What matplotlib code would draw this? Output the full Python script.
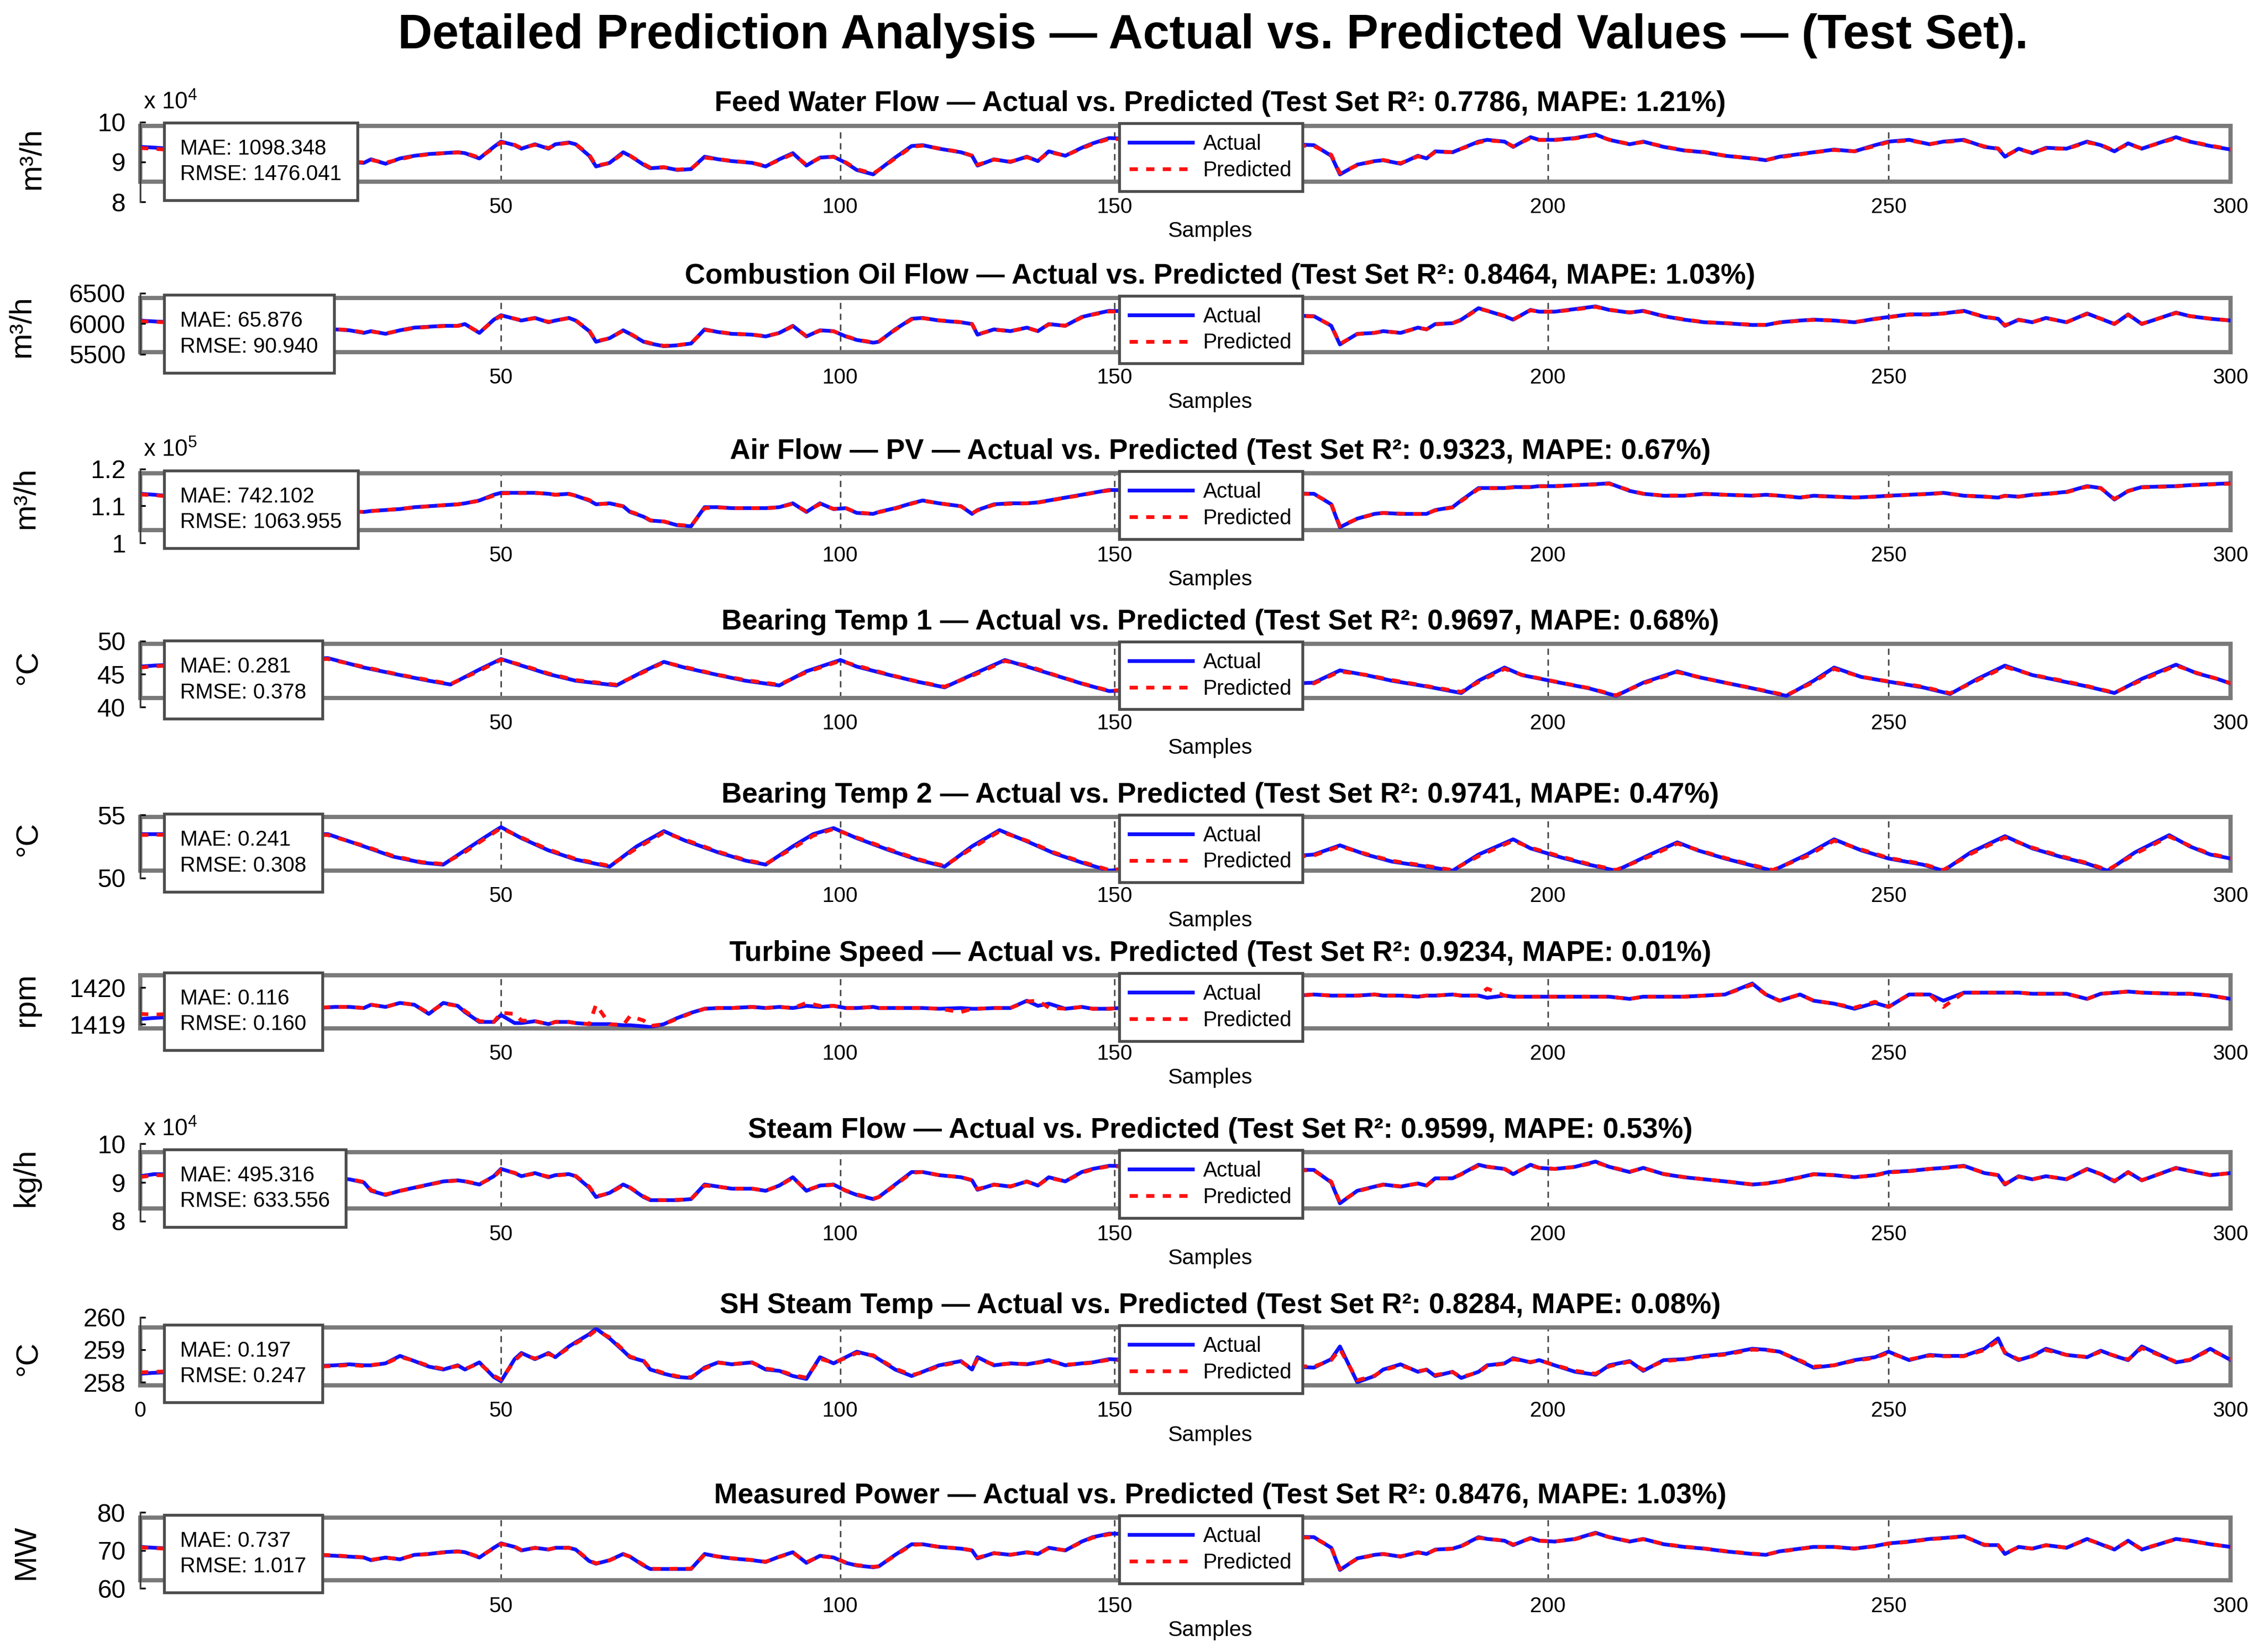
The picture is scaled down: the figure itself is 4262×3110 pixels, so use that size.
import numpy as np
import matplotlib
matplotlib.use("Agg")
import matplotlib.pyplot as plt

plt.rcParams['font.family'] = ['Liberation Sans', 'DejaVu Sans']
plt.rcParams['mathtext.fontset'] = 'custom'
plt.rcParams['mathtext.rm'] = 'Liberation Sans'
plt.rcParams['mathtext.it'] = 'Liberation Sans:italic'
plt.rcParams['mathtext.bf'] = 'Liberation Sans:bold'

# ---------------------------------------------------------------- texts / metrics
suptitle = "Detailed Prediction Analysis — Actual vs. Predicted Values — (Test Set)."
names = ["Feed Water Flow", "Combustion Oil Flow", "Air Flow — PV", "Bearing Temp 1",
         "Bearing Temp 2", "Turbine Speed", "Steam Flow", "SH Steam Temp", "Measured Power"]
units = ["m³/h", "m³/h", "m³/h", "°C", "°C", "rpm", "kg/h", "°C", "MW"]
r2 = [0.7786, 0.8464, 0.9323, 0.9697, 0.9741, 0.9234, 0.9599, 0.8284, 0.8476]
mape = [1.21, 1.03, 0.67, 0.68, 0.47, 0.01, 0.53, 0.08, 1.03]
mae = [1098.348, 65.876, 742.102, 0.281, 0.241, 0.116, 495.316, 0.197, 0.737]
rmse = [1476.041, 90.940, 1063.955, 0.378, 0.308, 0.160, 633.556, 0.247, 1.017]
x_ticks = [50, 100, 150, 200, 250, 300]
y_ticks = [[80000, 90000, 100000], [5500, 6000, 6500], [100000, 110000, 120000],
           [40, 45, 50], [50, 55], [1419, 1420], [80000, 90000, 100000],
           [258, 259, 260], [60, 70, 80]]
y_tick_labels = [["8", "9", "10"], ["5500", "6000", "6500"], ["1", "1.1", "1.2"],
                 ["40", "45", "50"], ["50", "55"], ["1419", "1420"], ["8", "9", "10"],
                 ["258", "259", "260"], ["60", "70", "80"]]
exponents = [4, None, 5, None, None, None, 4, None, None]

# ---------------------------------------------------------------- data
samples = [0, 2, 27, 29, 31, 32, 34, 36, 38, 40, 42, 44, 45, 47, 49,
           50, 52, 53, 55, 57, 58, 60, 61, 63, 64, 66, 68, 69, 71, 72, 74, 76, 78, 80, 82, 84, 87, 89, 91, 93, 95, 97, 99,
           101, 103, 106, 107, 110, 113, 115, 118, 122, 124, 125, 128, 131, 134, 136, 138, 141, 144, 146, 149,
           173, 175, 176, 178, 180, 181, 183, 185, 186, 187, 189, 190, 192, 193, 195, 196, 198, 199,
           201, 204, 207, 209, 212, 214, 217, 220, 223, 226, 230, 232, 234, 237, 239, 242, 245, 248,
           250, 253, 256, 258, 261, 264, 266, 267, 269, 271, 273, 276, 279, 281, 283, 285, 287, 292, 294, 297, 300]

feed_actual = [93780, 93600, 90220, 90000, 89780, 90670, 89560, 90890, 91560, 92000, 92220, 92440, 92220, 90890, 93780,
               95110, 94220, 93330, 94440, 93330, 94440, 94890, 94440, 91560, 88890, 89780, 92440, 91560, 89330, 88440, 88670, 88000, 88220, 91330, 90670, 90220, 89780, 88890, 90670, 92220, 89110, 91110, 91330,
               89780, 88000, 86890, 88000, 91110, 94000, 94220, 93330, 92440, 91560, 89110, 90670, 90000, 91330, 90220, 92670, 91560, 93560, 94670, 96000,
               94220, 91560, 86890, 89330, 90220, 90440, 89560, 91560, 90890, 92670, 92440, 93330, 95110, 95560, 95110, 93780, 96220, 95560,
               95560, 96000, 96890, 95560, 94440, 95110, 93780, 92890, 92440, 91560, 90890, 90440, 91330, 92000, 92440, 93110, 92670, 94220,
               95110, 95560, 94440, 95110, 95560, 93780, 93330, 91330, 93330, 92220, 93560, 93330, 95110, 94220, 92670, 94670, 93330, 96220, 95110, 94000, 93110]
feed_pred = [93500, 93300, 90300, 90100, 89900, 90500, 89800, 90700, 91500, 91900, 92200, 92400, 92300, 91100, 93500,
             94900, 94300, 93500, 94300, 93500, 94300, 94800, 94500, 91800, 89100, 89700, 92200, 91600, 89500, 88600, 88700, 88100, 88300, 91100, 90700, 90300, 89800, 89000, 90500, 92000, 89300, 91000, 91300,
             89900, 88200, 87100, 88000, 90900, 93800, 94100, 93400, 92500, 91600, 89300, 90600, 90100, 91200, 90300, 92500, 91600, 93400, 94500, 95800,
             94000, 91800, 87200, 89200, 90200, 90500, 89700, 91400, 91000, 92500, 92500, 93300, 94900, 95400, 95100, 93900, 96000, 95500,
             95500, 95900, 96700, 95600, 94500, 95000, 93900, 92900, 92500, 91600, 90900, 90500, 91200, 91900, 92400, 93000, 92700, 94000,
             95000, 95400, 94500, 95000, 95400, 93900, 93400, 91500, 93200, 92300, 93400, 93300, 94900, 94300, 92800, 94500, 93400, 96000, 95200, 94100, 93200]

oil_actual = [6050, 6036, 5906, 5891, 5848, 5877, 5833, 5891, 5935, 5949, 5964, 5964, 5993, 5848, 6065,
              6138, 6080, 6051, 6094, 6022, 6051, 6094, 6051, 5877, 5703, 5761, 5891, 5833, 5703, 5674, 5630, 5645, 5674, 5906, 5862, 5833, 5819, 5790, 5848, 5964, 5790, 5891, 5877,
              5790, 5732, 5688, 5703, 5906, 6080, 6094, 6051, 6022, 5993, 5819, 5906, 5877, 5935, 5877, 5993, 5964, 6109, 6152, 6210,
              6123, 5964, 5659, 5833, 5848, 5877, 5848, 5935, 5906, 5993, 6007, 6065, 6254, 6210, 6123, 6065, 6225, 6196,
              6196, 6239, 6283, 6225, 6181, 6210, 6123, 6065, 6022, 6007, 5978, 5978, 6022, 6051, 6065, 6051, 6022, 6080,
              6109, 6152, 6152, 6167, 6210, 6109, 6080, 5964, 6065, 6022, 6094, 6022, 6167, 6080, 5993, 6152, 5993, 6181, 6123, 6080, 6051]
oil_pred = [6040, 6030, 5910, 5895, 5855, 5870, 5840, 5885, 5930, 5945, 5960, 5962, 5988, 5855, 6055,
            6128, 6083, 6055, 6090, 6028, 6050, 6090, 6055, 5885, 5712, 5758, 5885, 5838, 5710, 5680, 5636, 5648, 5676, 5898, 5865, 5836, 5820, 5795, 5845, 5958, 5796, 5885, 5875,
            5795, 5738, 5692, 5705, 5898, 6072, 6090, 6055, 6025, 5995, 5825, 5900, 5880, 5930, 5880, 5988, 5966, 6102, 6148, 6200,
            6118, 5970, 5668, 5828, 5850, 5875, 5850, 5930, 5908, 5988, 6005, 6060, 6245, 6212, 6128, 6070, 6218, 6198,
            6195, 6232, 6275, 6228, 6185, 6205, 6128, 6070, 6025, 6010, 5982, 5980, 6018, 6048, 6062, 6052, 6025, 6075,
            6105, 6148, 6150, 6165, 6202, 6115, 6082, 5972, 6060, 6025, 6090, 6025, 6160, 6082, 5998, 6145, 5998, 6175, 6125, 6082, 6052]

air_actual = [113280, 113020, 108630, 108475, 108370, 108630, 108890, 109150, 109660, 109920, 110180, 110440, 110700, 111470, 113020,
              113540, 113540, 113540, 113540, 113280, 113020, 113280, 112760, 111470, 110440, 110700, 109920, 108370, 107080, 106050, 105790, 104760, 104500, 109660, 109660, 109400, 109400, 109400, 109660, 110700, 108370, 110700, 109150,
              109400, 108110, 107850, 108370, 109400, 110700, 111470, 110700, 109920, 107850, 108890, 110440, 110700, 110700, 110960, 111470, 112250, 113020, 113540, 114320,
              113280, 110440, 104240, 106560, 107850, 108110, 107850, 107850, 107850, 108890, 109660, 111470, 114830, 114830, 114830, 115090, 115090, 115350,
              115350, 115610, 115870, 116120, 114060, 113280, 112760, 112760, 113280, 113020, 112760, 113020, 112760, 112250, 112760, 112510, 112250, 112510,
              112760, 113020, 113280, 113540, 112760, 112510, 112250, 112760, 112510, 113020, 113280, 113800, 115350, 114830, 111730, 114060, 115090, 115350, 115610, 115870, 116120]
air_pred = [113100, 112900, 108700, 108500, 108400, 108600, 108900, 109200, 109600, 109900, 110200, 110400, 110700, 111400, 112800,
            113400, 113500, 113500, 113500, 113300, 113000, 113200, 112800, 111600, 110500, 110600, 109900, 108500, 107200, 106100, 105800, 104900, 104600, 109400, 109600, 109400, 109400, 109400, 109600, 110600, 108500, 110500, 109200,
            109400, 108200, 107900, 108300, 109300, 110600, 111400, 110700, 109900, 108000, 108800, 110300, 110600, 110700, 110900, 111400, 112200, 112900, 113500, 114200,
            113200, 110600, 104500, 106500, 107800, 108100, 107900, 107800, 107900, 108800, 109600, 111300, 114600, 114800, 114800, 115000, 115100, 115300,
            115300, 115600, 115800, 116000, 114200, 113300, 112800, 112800, 113200, 113000, 112800, 113000, 112800, 112300, 112700, 112500, 112300, 112500,
            112700, 113000, 113200, 113500, 112800, 112500, 112300, 112700, 112500, 113000, 113200, 113700, 115200, 114800, 111900, 114000, 115000, 115300, 115600, 115800, 116000]

samples_bt1 = [0, 2, 26, 31, 36, 40, 43, 47, 50, 53, 57, 61, 67, 71, 74, 77, 82, 86, 91, 95,
               100, 103, 109, 114, 119, 125, 130, 134, 139, 144, 149, 173, 176, 179, 182, 186, 190, 192, 195, 197,
               201, 206, 210, 214, 219, 222, 226, 230, 235, 239, 242, 246, 250, 255, 259, 263, 267, 271, 275, 279,
               283, 287, 292, 295, 298, 300]
bt1_actual = [46.14, 46.30, 47.43, 46.00, 44.86, 44.00, 43.43, 45.70, 47.29, 46.30, 45.00, 44.00, 43.29, 45.43, 46.86, 46.00, 44.86, 44.00, 43.29, 45.43,
              47.14, 46.14, 44.86, 43.86, 43.00, 45.29, 47.14, 46.14, 44.86, 43.57, 42.43, 43.71, 45.57, 44.86, 44.00, 43.14, 42.14, 44.00, 46.00, 44.86,
              43.86, 42.86, 41.71, 43.71, 45.43, 44.57, 43.71, 42.86, 41.71, 44.00, 46.00, 44.57, 43.86, 43.00, 42.00, 44.29, 46.29, 44.86, 44.00, 43.14,
              42.14, 44.29, 46.43, 45.14, 44.29, 43.57]
bt1_pred = [46.0, 46.2, 47.3, 46.1, 44.9, 44.1, 43.5, 45.5, 47.2, 46.4, 45.1, 44.1, 43.4, 45.3, 46.8, 46.1, 44.9, 44.1, 43.4, 45.3,
            47.0, 46.3, 44.9, 43.9, 43.1, 45.1, 47.0, 46.3, 44.9, 43.6, 42.5, 43.6, 45.4, 44.9, 44.1, 43.2, 42.3, 43.8, 45.8, 44.9,
            43.9, 42.9, 41.8, 43.6, 45.3, 44.6, 43.7, 42.9, 41.8, 43.8, 45.8, 44.6, 43.9, 43.1, 42.1, 44.1, 46.1, 44.9, 44.1, 43.2,
            42.2, 44.1, 46.3, 45.2, 44.3, 43.6]

samples_bt2 = [0, 2, 26, 31, 35, 39, 42, 45, 48, 50, 53, 57, 61, 66, 70, 74, 77, 82, 86, 89,
               93, 96, 99, 103, 109, 114, 119, 124, 129, 134, 139, 144, 149, 173, 176, 179, 182, 186, 189, 192,
               196, 198, 202, 206, 210, 215, 219, 222, 226, 230, 233, 238, 242, 246, 250, 255, 258, 262, 267, 271,
               275, 279, 282, 286, 291, 294, 297, 300]
bt2_actual = [53.47, 53.47, 53.47, 52.50, 51.69, 51.21, 51.05, 52.18, 53.31, 54.03, 53.15, 52.18, 51.45, 50.89, 52.50, 53.71, 52.98, 52.02, 51.37, 51.05,
              52.50, 53.47, 53.95, 53.15, 52.18, 51.45, 50.89, 52.50, 53.79, 52.90, 51.94, 51.21, 50.56, 51.85, 52.58, 51.85, 51.29, 50.89, 50.56, 51.85,
              53.06, 52.34, 51.61, 51.05, 50.56, 51.85, 52.82, 52.18, 51.53, 50.97, 50.56, 51.85, 53.06, 52.18, 51.53, 51.05, 50.56, 52.02, 53.31, 52.34,
              51.69, 51.13, 50.56, 52.02, 53.39, 52.50, 51.85, 51.53]
bt2_pred = [53.40, 53.42, 53.40, 52.55, 51.75, 51.25, 51.10, 52.05, 53.20, 53.95, 53.20, 52.25, 51.50, 50.95, 52.35, 53.60, 53.05, 52.08, 51.42, 51.10,
            52.35, 53.35, 53.88, 53.20, 52.25, 51.50, 50.95, 52.35, 53.70, 52.95, 52.00, 51.27, 50.62, 51.78, 52.50, 51.90, 51.35, 50.95, 50.62, 51.72,
            52.95, 52.40, 51.68, 51.10, 50.62, 51.72, 52.72, 52.22, 51.58, 51.02, 50.62, 51.72, 52.95, 52.25, 51.58, 51.10, 50.62, 51.90, 53.20, 52.40,
            51.75, 51.18, 50.62, 51.90, 53.28, 52.55, 51.90, 51.57]

speed_actual = [1419.14, 1419.17, 1419.47, 1419.47, 1419.44, 1419.53, 1419.47, 1419.58, 1419.53, 1419.28, 1419.58, 1419.50, 1419.33, 1419.06, 1419.06,
                1419.25, 1419.03, 1419.03, 1419.08, 1419.00, 1419.06, 1419.06, 1419.03, 1419.00, 1419.00, 1419.00, 1418.97, 1418.97, 1418.94, 1418.92, 1419.00, 1419.17, 1419.31, 1419.42, 1419.44, 1419.44, 1419.47, 1419.44, 1419.47, 1419.44, 1419.50, 1419.47, 1419.50,
                1419.44, 1419.44, 1419.47, 1419.44, 1419.44, 1419.44, 1419.44, 1419.42, 1419.44, 1419.42, 1419.42, 1419.44, 1419.44, 1419.64, 1419.50, 1419.56, 1419.42, 1419.47, 1419.42, 1419.42,
                1419.81, 1419.78, 1419.78, 1419.78, 1419.81, 1419.78, 1419.78, 1419.75, 1419.78, 1419.78, 1419.81, 1419.78, 1419.78, 1419.72, 1419.78, 1419.75, 1419.75, 1419.75,
                1419.75, 1419.75, 1419.75, 1419.75, 1419.69, 1419.75, 1419.75, 1419.75, 1419.78, 1419.81, 1420.11, 1419.81, 1419.64, 1419.81, 1419.64, 1419.56, 1419.42, 1419.58,
                1419.47, 1419.81, 1419.81, 1419.64, 1419.86, 1419.86, 1419.86, 1419.86, 1419.86, 1419.83, 1419.83, 1419.83, 1419.69, 1419.83, 1419.86, 1419.89, 1419.86, 1419.83, 1419.83, 1419.78, 1419.69]
speed_pred = [1419.28, 1419.26, 1419.47, 1419.47, 1419.44, 1419.53, 1419.47, 1419.58, 1419.53, 1419.30, 1419.56, 1419.50, 1419.36, 1419.08, 1419.06,
              1419.31, 1419.28, 1419.10, 1419.08, 1419.00, 1419.06, 1419.06, 1419.03, 1419.00, 1419.53, 1419.00, 1418.97, 1419.22, 1419.10, 1418.95, 1419.00, 1419.15, 1419.30, 1419.42, 1419.44, 1419.44, 1419.47, 1419.44, 1419.47, 1419.44, 1419.58, 1419.50, 1419.50,
              1419.44, 1419.44, 1419.47, 1419.44, 1419.44, 1419.44, 1419.44, 1419.42, 1419.33, 1419.42, 1419.42, 1419.44, 1419.44, 1419.62, 1419.64, 1419.45, 1419.42, 1419.47, 1419.42, 1419.42,
              1419.81, 1419.78, 1419.78, 1419.78, 1419.81, 1419.78, 1419.78, 1419.75, 1419.78, 1419.78, 1419.81, 1419.78, 1419.78, 1419.97, 1419.78, 1419.75, 1419.75, 1419.75,
              1419.75, 1419.75, 1419.75, 1419.75, 1419.69, 1419.75, 1419.75, 1419.75, 1419.78, 1419.81, 1420.08, 1419.81, 1419.64, 1419.81, 1419.64, 1419.56, 1419.45, 1419.61,
              1419.47, 1419.81, 1419.81, 1419.47, 1419.86, 1419.86, 1419.86, 1419.86, 1419.86, 1419.83, 1419.83, 1419.83, 1419.69, 1419.83, 1419.86, 1419.89, 1419.86, 1419.83, 1419.83, 1419.78, 1419.69]

steam_actual = [91620, 92160, 91080, 90810, 90000, 87840, 86760, 87840, 88650, 89460, 90270, 90540, 90270, 89460, 91620,
                93510, 92430, 91620, 92430, 91350, 91890, 92160, 91620, 88650, 86220, 87300, 89460, 88650, 86220, 85410, 85410, 85410, 85680, 89460, 88920, 88380, 88380, 87840, 89190, 91350, 87840, 89190, 89460,
                87840, 86760, 85680, 86220, 89460, 92700, 92700, 91890, 91350, 90540, 88110, 89460, 88920, 90270, 89190, 91350, 90270, 92700, 93510, 94320,
                93240, 90000, 84590, 87840, 88920, 89460, 88920, 89730, 89190, 91080, 91080, 92160, 94590, 94050, 93510, 92160, 94590, 93780,
                93510, 94050, 95410, 94050, 92700, 93780, 92160, 91350, 90810, 90270, 89460, 89730, 90270, 91350, 92160, 91890, 91350, 91890,
                92700, 92970, 93510, 93780, 94320, 92430, 91890, 89460, 91620, 90810, 91620, 90810, 93510, 92160, 90270, 92700, 90540, 93780, 92970, 91890, 92430]
steam_pred = [91400, 91900, 91100, 90900, 90100, 88000, 86900, 87800, 88600, 89400, 90200, 90500, 90300, 89600, 91400,
              93300, 92500, 91700, 92300, 91500, 91800, 92100, 91700, 88900, 86400, 87200, 89300, 88700, 86400, 85500, 85400, 85500, 85700, 89200, 88900, 88400, 88400, 87900, 89100, 91200, 88000, 89100, 89400,
              87900, 86900, 85800, 86200, 89300, 92500, 92700, 91900, 91400, 90600, 88300, 89400, 89000, 90200, 89200, 91200, 90300, 92500, 93400, 94200,
              93100, 90200, 84800, 87700, 88900, 89400, 89000, 89700, 89200, 91000, 91100, 92100, 94400, 94100, 93500, 92300, 94400, 93800,
              93500, 94000, 95200, 94100, 92800, 93700, 92200, 91400, 90800, 90300, 89500, 89700, 90200, 91300, 92100, 91900, 91400, 91800,
              92600, 92900, 93500, 93700, 94200, 92500, 91900, 89600, 91500, 90800, 91600, 90900, 93400, 92200, 90400, 92600, 90600, 93700, 93000, 91900, 92400]

sh_actual = [258.26, 258.29, 258.52, 258.55, 258.52, 258.52, 258.58, 258.81, 258.65, 258.48, 258.39, 258.52, 258.39, 258.61, 258.16,
             258.03, 258.71, 258.90, 258.71, 258.90, 258.77, 259.10, 259.23, 259.48, 259.65, 259.35, 258.97, 258.77, 258.65, 258.39, 258.26, 258.16, 258.13, 258.45, 258.61, 258.55, 258.61, 258.39, 258.35, 258.19, 258.10, 258.77, 258.58,
             258.77, 258.94, 258.81, 258.71, 258.39, 258.19, 258.32, 258.52, 258.65, 258.39, 258.77, 258.52, 258.58, 258.55, 258.61, 258.68, 258.52, 258.58, 258.61, 258.71,
             258.45, 258.71, 259.10, 258.00, 258.19, 258.39, 258.55, 258.32, 258.39, 258.19, 258.32, 258.13, 258.32, 258.52, 258.58, 258.74, 258.61, 258.68,
             258.52, 258.32, 258.23, 258.52, 258.65, 258.35, 258.68, 258.71, 258.81, 258.87, 259.03, 259.00, 258.94, 258.65, 258.45, 258.52, 258.68, 258.77,
             258.94, 258.68, 258.84, 258.81, 258.81, 259.03, 259.35, 258.90, 258.68, 258.81, 259.03, 258.84, 258.77, 258.97, 258.81, 258.68, 259.10, 258.61, 258.68, 259.03, 258.68]
sh_pred = [258.30, 258.32, 258.50, 258.53, 258.50, 258.53, 258.57, 258.78, 258.66, 258.50, 258.41, 258.50, 258.41, 258.58, 258.20,
           258.08, 258.66, 258.86, 258.73, 258.87, 258.78, 259.06, 259.20, 259.44, 259.60, 259.38, 259.00, 258.79, 258.66, 258.42, 258.28, 258.18, 258.15, 258.42, 258.60, 258.56, 258.60, 258.42, 258.36, 258.22, 258.14, 258.72, 258.60,
           258.75, 258.90, 258.83, 258.72, 258.42, 258.22, 258.30, 258.50, 258.63, 258.42, 258.72, 258.54, 258.57, 258.56, 258.60, 258.66, 258.54, 258.57, 258.60, 258.69,
           258.48, 258.68, 259.02, 258.06, 258.20, 258.37, 258.52, 258.34, 258.38, 258.22, 258.31, 258.16, 258.30, 258.50, 258.57, 258.71, 258.62, 258.67,
           258.53, 258.35, 258.26, 258.49, 258.63, 258.38, 258.65, 258.70, 258.79, 258.85, 259.00, 258.99, 258.93, 258.67, 258.48, 258.52, 258.66, 258.75,
           258.91, 258.70, 258.82, 258.80, 258.80, 258.99, 259.28, 258.92, 258.70, 258.80, 258.99, 258.84, 258.78, 258.94, 258.82, 258.70, 259.05, 258.63, 258.69, 259.00, 258.70]

power_actual = [70.93, 70.70, 68.60, 68.37, 68.14, 67.44, 68.14, 67.67, 68.84, 69.07, 69.53, 69.77, 69.53, 68.14, 70.70,
                71.86, 70.93, 70.00, 70.70, 70.23, 70.70, 70.70, 70.23, 67.21, 66.51, 67.44, 69.07, 68.37, 66.05, 65.12, 65.12, 65.12, 65.12, 69.07, 68.37, 67.91, 67.44, 66.98, 68.37, 69.53, 66.74, 68.60, 68.14,
                66.74, 66.05, 65.58, 65.81, 68.84, 71.63, 71.63, 70.93, 70.47, 70.00, 67.91, 69.30, 68.84, 69.53, 69.07, 70.70, 70.00, 72.33, 73.49, 74.42,
                73.49, 70.70, 64.88, 67.91, 68.84, 69.07, 68.37, 69.53, 69.07, 70.23, 70.47, 71.16, 73.49, 73.02, 72.56, 71.40, 73.26, 72.56,
                72.33, 73.02, 74.65, 73.49, 72.33, 73.02, 71.63, 70.93, 70.47, 69.77, 69.07, 68.84, 69.77, 70.47, 70.93, 70.93, 70.47, 71.16,
                71.86, 72.33, 73.02, 73.26, 73.72, 71.40, 71.40, 69.07, 70.93, 70.47, 71.40, 70.70, 73.02, 71.63, 70.23, 72.56, 70.23, 73.02, 72.56, 71.63, 70.93]
power_pred = [70.80, 70.60, 68.70, 68.45, 68.20, 67.55, 68.10, 67.75, 68.75, 69.05, 69.45, 69.70, 69.55, 68.30, 70.55,
              71.70, 71.00, 70.10, 70.65, 70.30, 70.65, 70.70, 70.30, 67.40, 66.60, 67.40, 68.95, 68.40, 66.20, 65.20, 65.15, 65.20, 65.20, 68.90, 68.40, 67.95, 67.50, 67.05, 68.30, 69.40, 66.90, 68.50, 68.15,
              66.85, 66.15, 65.70, 65.85, 68.70, 71.45, 71.60, 70.95, 70.50, 70.05, 68.10, 69.25, 68.90, 69.45, 69.10, 70.60, 70.05, 72.20, 73.35, 74.25,
              73.35, 70.85, 65.10, 67.80, 68.80, 69.05, 68.45, 69.45, 69.10, 70.15, 70.45, 71.10, 73.30, 73.05, 72.60, 71.55, 73.15, 72.55,
              72.35, 72.95, 74.50, 73.50, 72.40, 72.95, 71.70, 71.00, 70.50, 69.85, 69.15, 68.90, 69.70, 70.40, 70.90, 70.90, 70.50, 71.10,
              71.80, 72.25, 72.95, 73.20, 73.65, 71.50, 71.40, 69.20, 70.85, 70.50, 71.35, 70.75, 72.90, 71.70, 70.35, 72.45, 70.35, 72.95, 72.55, 71.65, 70.95]

series = [(samples, feed_actual, feed_pred), (samples, oil_actual, oil_pred), (samples, air_actual, air_pred),
          (samples_bt1, bt1_actual, bt1_pred), (samples_bt2, bt2_actual, bt2_pred), (samples, speed_actual, speed_pred),
          (samples, steam_actual, steam_pred), (samples, sh_actual, sh_pred), (samples, power_actual, power_pred)]

# ---------------------------------------------------------------- layout (reference grid 1568 x 1144)
REF_W, REF_H = 1568.0, 1144.0
FRAME_LEFT, FRAME_RIGHT = 97.0, 1545.0
frame_px = [(87, 125.7), (206.3, 244), (327.8, 367), (445.8, 483.3), (565.7, 603),
            (675.5, 712), (798, 837), (919.4, 959.4), (1051, 1094.5)]
frame_lims = [(85110, 99110), (5529, 6422), (103500, 118800), (41.4, 49.6), (50.56, 54.84),
              (1418.89, 1420.33), (83200, 97800), (257.9, 259.68), (62.1, 78.6)]
ylabel_pos = [(22, 110), (15, 226), (18, 345), (20, 462), (20, 581), (18, 692), (18, 815.6), (20, 940.5), (18, 1075)]

# x axis of the reference is piecewise linear (legend region stretched)
anchor_s = [-100, 0, 50, 100, 150, 200, 250, 300, 400]
anchor_p = [-403, 97, 347, 582, 772, 1072, 1308, 1545, 2019]


def fwd(x):
    return np.interp(x, anchor_s, anchor_p)


def inv(p):
    return np.interp(p, anchor_p, anchor_s)


fig = plt.figure(figsize=(4262 / 300, 3110 / 300), dpi=300)
fig.patch.set_facecolor('white')
fig.text(840 / REF_W, 1 - 25 / REF_H, suptitle, ha='center', va='center',
         fontsize=21.5, fontweight='bold')

L = FRAME_LEFT / REF_W
W = (FRAME_RIGHT - FRAME_LEFT) / REF_W
FW = FRAME_RIGHT - FRAME_LEFT

for i in range(9):
    ft, fb = frame_px[i]
    vlo, vhi = frame_lims[i]
    hpx = fb - ft
    xs, ya, yp = series[i]

    ax = fig.add_axes([L, 1 - fb / REF_H, W, hpx / REF_H])
    ax.set_xscale('function', functions=(fwd, inv))
    ax.set_xlim(0, 300)
    ax.set_ylim(vlo, vhi)

    l1, = ax.plot(xs, ya, color='#1010ff', lw=1.7, label='Actual', zorder=3)
    l2, = ax.plot(xs, yp, color='#ff1010', lw=1.7, ls=(0, (2.2, 2.2)), label='Predicted', zorder=3.1)

    ticks = ([0] if i == 7 else []) + x_ticks
    ax.set_xticks(ticks)
    ax.set_xticklabels([str(t) for t in ticks])
    ax.tick_params(axis='x', length=0, pad=7, labelsize=9.7)
    ax.set_yticks([])
    for s in ax.spines.values():
        s.set_color('0.48')
        s.set_linewidth(1.9)
    ax.grid(axis='x', color='0.3', lw=0.7, ls=(0, (4, 3)))

    ax.set_title(f"{names[i]} — Actual vs. Predicted (Test Set R²: {r2[i]:.4f}, MAPE: {mape[i]:.2f}%)",
                 fontsize=12.8, fontweight='bold', x=(845 - FRAME_LEFT) / FW, pad=6.5)
    ax.set_xlabel('Samples', fontsize=9.8)
    ax.xaxis.set_label_coords((838 - FRAME_LEFT) / FW, -27.5 / hpx)

    ax.text((124.8 - FRAME_LEFT) / FW, 1 - 9 / hpx, f"MAE: {mae[i]:.3f}\nRMSE: {rmse[i]:.3f}",
            transform=ax.transAxes, ha='left', va='top', fontsize=9.6, linespacing=1.35, zorder=6,
            bbox=dict(boxstyle='square,pad=0.75', fc='white', ec='0.3', lw=1.3), clip_on=False)

    leg = ax.legend(handles=[l1, l2], loc='upper left',
                    bbox_to_anchor=((775 - FRAME_LEFT) / FW, 1 + 1.5 / hpx), borderaxespad=0,
                    fontsize=9.5, handlelength=3.0, handletextpad=0.5, borderpad=0.5,
                    labelspacing=0.3, fancybox=False, framealpha=1, edgecolor='0.3')
    leg.get_frame().set_linewidth(1.3)
    leg.set_zorder(6)

    # y tick scale drawn on a thin companion axis sharing the same value->position mapping
    yt = y_ticks[i]
    tmin, tmax = min(yt), max(yt)

    def ypx(v):
        return ft + (vhi - v) / (vhi - vlo) * hpx

    aux = fig.add_axes([L, 1 - ypx(tmin) / REF_H, 1e-4, (ypx(tmin) - ypx(tmax)) / REF_H])
    aux.set_ylim(tmin, tmax)
    aux.set_xticks([])
    aux.set_yticks(yt)
    aux.set_yticklabels(y_tick_labels[i])
    aux.patch.set_visible(False)
    for k in ('top', 'right', 'bottom'):
        aux.spines[k].set_visible(False)
    aux.spines['left'].set_color('0.25')
    aux.spines['left'].set_linewidth(0.8)
    aux.tick_params(axis='y', direction='in', length=2.5, width=0.8, pad=6.5, labelsize=11.5)

    if exponents[i] is not None:
        fig.text(118 / REF_W, 1 - (ft - 16) / REF_H, r"x $\mathregular{10^{%d}}$" % exponents[i],
                 ha='center', va='center', fontsize=10.5)

    fig.text(ylabel_pos[i][0] / REF_W, 1 - ylabel_pos[i][1] / REF_H, units[i], rotation=90,
             ha='center', va='center', fontsize=14)

fig.savefig('out.png', dpi=300, facecolor='white')
